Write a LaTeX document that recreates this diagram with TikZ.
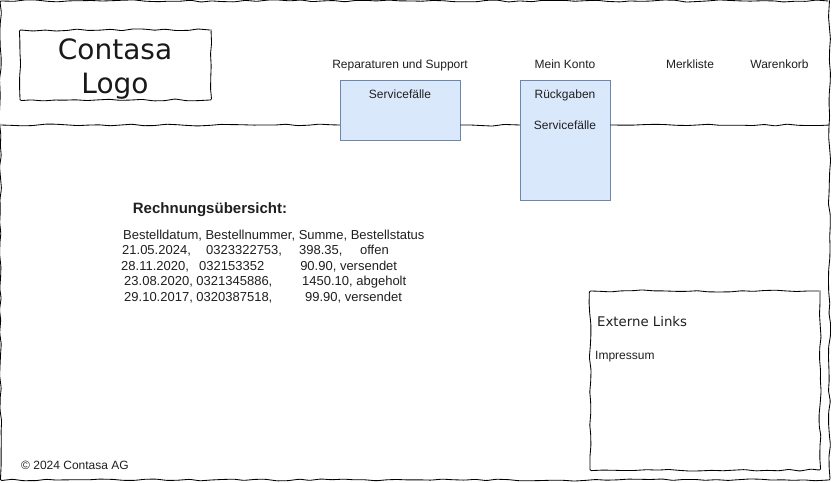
\documentclass[tikz,border=0pt]{standalone}
\usepackage{fontspec}
\setmainfont{Liberation Sans}
\newfontfamily\vfont{DejaVu Sans}
\usetikzlibrary{decorations.pathmorphing}
\pgfmathsetseed{4711}
\definecolor{blue1}{HTML}{DAE8FC}
\definecolor{blue6}{HTML}{6C86AF}
\tikzset{
  x=1pt,y=1pt,
  sketch/.style={draw=black,line width=0.85pt,decorate,decoration={random steps,segment length=11pt,amplitude=1.1pt},rounded corners=1.2pt},
  sketchbox/.style={sketch,inner sep=0pt,outer sep=0pt,align=center,text=black!90},
  menubox/.style={draw=blue6,fill=blue1,line width=0.8pt,inner sep=0pt,outer sep=0pt},
  lbl/.style={font=\fontsize{12}{14}\selectfont,text=black!88,inner sep=0pt,anchor=base},
  lbll/.style={lbl,anchor=base west},
  rowtext/.style={lbll,font=\fontsize{13}{15}\selectfont}
}
\begin{document}
\begin{tikzpicture}
\useasboundingbox (0,0) rectangle (832,-482);
\node[sketchbox,minimum width=829pt,minimum height=479pt] (frame) at (415,-240.5) {};
\node[menubox,minimum width=120.5pt,minimum height=60pt] (svc) at (400.2,-110) {};
\node[menubox,minimum width=90.5pt,minimum height=120pt] (acct) at (565.2,-140) {};
\coordinate (hl) at ([yshift=-15pt]frame.west |- svc.west);
\coordinate (svcw) at ([yshift=-15pt]svc.west);
\coordinate (svce) at ([yshift=-15pt]svc.east);
\coordinate (acctw) at (acct.west |- svce);
\coordinate (accte) at (acct.east |- svce);
\coordinate (hr) at (frame.east |- svce);
\draw[sketch] (hl) -- (svcw);
\draw[sketch] (svce) -- (acctw);
\draw[sketch] (accte) -- (hr);
\node[sketchbox,minimum width=191pt,minimum height=70pt,font=\vfont\fontsize{28}{34}\selectfont] (logo) at (115.5,-65) {};
\node[lbl,font=\vfont\fontsize{28}{34}\selectfont,text=black!90] (l1) at (115,-59) {Contasa};
\node[lbl,font=\vfont\fontsize{28}{34}\selectfont,text=black!90] (l2) at (115,-93) {Logo};
\node[sketchbox,minimum width=230pt,minimum height=179pt] (links) at (705,-380.5) {};
\node[lbl] (t1) at (400,-68.3) {Reparaturen und Support};
\node[lbl] (t2) at (565,-68.3) {Mein Konto};
\node[lbl] (t3) at (690,-68.3) {Merkliste};
\node[lbl] (t4) at (779.5,-68.3) {Warenkorb};
\node[lbl] (s1) at (400,-98.3) {Servicefälle};
\node[lbl] (s2) at (565,-98.3) {Rückgaben};
\node[lbl] (s3) at (565,-129.3) {Servicefälle};
\node[lbl,font=\fontsize{15}{17}\selectfont\bfseries] (h) at (210,-213) {Rechnungsübersicht:};
\node[rowtext] (r0) at (123,-239) {Bestelldatum, Bestellnummer, Summe, Bestellstatus};
\node[rowtext] (r1) at (122,-254) {21.05.2024,\hspace{15.3pt}0323322753,\hspace{17.1pt}398.35,\hspace{17.6pt}offen};
\node[rowtext] (r2) at (121,-270) {28.11.2020,\hspace{10.3pt}032153352\hspace{36pt}90.90, versendet};
\node[rowtext] (r3) at (124,-285) {23.08.2020, 0321345886,\hspace{29.8pt}1450.10, abgeholt};
\node[rowtext] (r4) at (124,-301.5) {29.10.2017, 0320387518,\hspace{32.8pt}99.90, versendet};
\node[lbll,font=\vfont\fontsize{13.3}{16}\selectfont] (e) at (597,-326) {Externe Links};
\node[lbll] (i) at (595,-359) {Impressum};
\node[lbll] (c) at (21,-469) {© 2024 Contasa AG};
\end{tikzpicture}
\end{document}
